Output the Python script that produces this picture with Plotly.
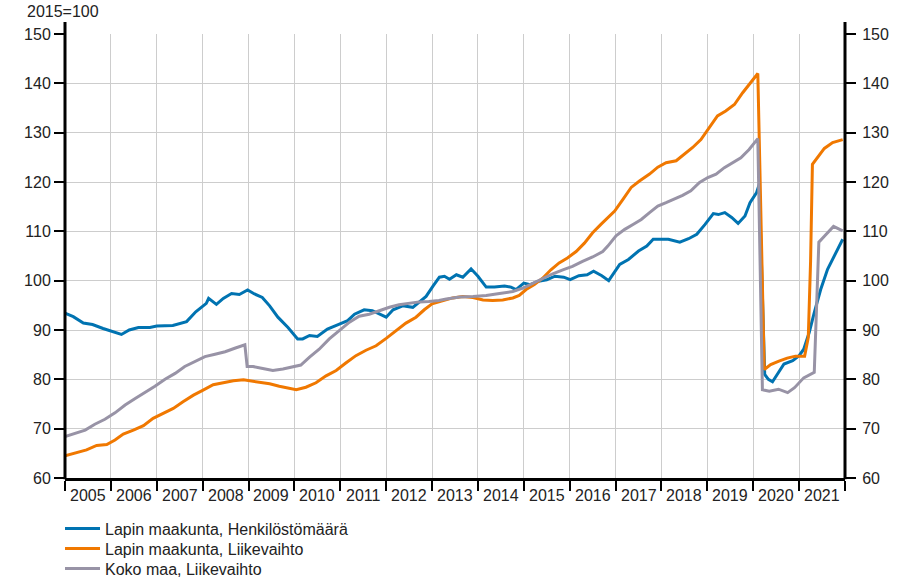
import plotly.graph_objects as go

# --- data (decimal year, index 2015=100) ---
henk_t = [2005.0, 2005.18, 2005.4, 2005.6, 2005.83, 2006.05, 2006.23, 2006.4, 2006.6, 2006.85,
          2007.0, 2007.35, 2007.65, 2007.85, 2008.08, 2008.13, 2008.3, 2008.45, 2008.63, 2008.8,
          2008.98, 2009.13, 2009.3, 2009.46, 2009.64, 2009.86, 2010.07, 2010.18, 2010.33, 2010.5,
          2010.72, 2010.98, 2011.16, 2011.31, 2011.52, 2011.7, 2011.85, 2012.0, 2012.15, 2012.36,
          2012.58, 2012.76, 2012.87, 2013.02, 2013.16, 2013.27, 2013.38, 2013.53, 2013.67, 2013.85,
          2014.0, 2014.18, 2014.36, 2014.58, 2014.72, 2014.83, 2015.0, 2015.14, 2015.32, 2015.5,
          2015.68, 2015.87, 2016.01, 2016.2, 2016.38, 2016.52, 2016.7, 2016.85, 2017.0, 2017.09,
          2017.28, 2017.5, 2017.68, 2017.82, 2018.15, 2018.4, 2018.59, 2018.77, 2018.95, 2019.13,
          2019.24, 2019.38, 2019.53, 2019.67, 2019.82, 2019.93, 2020.07, 2020.13, 2020.25, 2020.33,
          2020.42, 2020.53, 2020.67, 2020.86, 2021.0, 2021.1, 2021.22, 2021.33, 2021.47, 2021.62,
          2021.77, 2021.95]
henk_v = [93.4, 92.7, 91.4, 91.1, 90.3, 89.7, 89.1, 90.0, 90.5, 90.5,
          90.8, 90.9, 91.7, 93.7, 95.4, 96.4, 95.2, 96.4, 97.4, 97.2,
          98.1, 97.3, 96.6, 94.9, 92.6, 90.5, 88.2, 88.2, 88.9, 88.7,
          90.2, 91.2, 91.9, 93.2, 94.1, 93.9, 93.2, 92.6, 94.1, 94.9,
          94.6, 95.9, 96.8, 98.9, 100.7, 100.9, 100.3, 101.2, 100.7, 102.4,
          100.9, 98.7, 98.7, 98.9, 98.7, 98.2, 99.5, 99.2, 99.9, 100.2,
          100.9, 100.7, 100.2, 101.0, 101.2, 101.9, 101.0, 100.0, 102.2, 103.3,
          104.3, 106.0, 107.0, 108.4, 108.4, 107.8, 108.5, 109.4, 111.4, 113.6,
          113.4, 113.8, 112.8, 111.6, 113.1, 115.8, 117.8, 119.5, 81.0, 80.0,
          79.5, 81.1, 83.1, 83.8, 84.8, 86.1, 89.5, 93.5, 98.2, 102.3,
          105.0, 108.4]

liike_t = [2005.0, 2005.25, 2005.47, 2005.69, 2005.91, 2006.09, 2006.27, 2006.49, 2006.71, 2006.92,
           2007.14, 2007.36, 2007.58, 2007.8, 2008.01, 2008.23, 2008.45, 2008.67, 2008.89, 2009.1,
           2009.24, 2009.46, 2009.67, 2009.89, 2010.04, 2010.25, 2010.47, 2010.69, 2010.91, 2011.12,
           2011.34, 2011.56, 2011.78, 2012.0, 2012.21, 2012.43, 2012.65, 2012.83, 2013.0, 2013.24,
           2013.45, 2013.67, 2013.89, 2014.11, 2014.32, 2014.54, 2014.76, 2014.9, 2015.05, 2015.23,
           2015.41, 2015.59, 2015.77, 2015.95, 2016.14, 2016.32, 2016.5, 2016.68, 2016.86, 2016.98,
           2017.16, 2017.34, 2017.52, 2017.74, 2017.92, 2018.1, 2018.32, 2018.5, 2018.68, 2018.86,
           2019.04, 2019.22, 2019.4, 2019.59, 2019.77, 2019.95, 2020.1, 2020.24, 2020.38, 2020.56,
           2020.74, 2020.92, 2021.12, 2021.2, 2021.25, 2021.29, 2021.4, 2021.55, 2021.73, 2021.95]
liike_v = [64.5, 65.2, 65.7, 66.6, 66.8, 67.7, 68.9, 69.7, 70.6, 72.1,
           73.1, 74.1, 75.5, 76.8, 77.8, 78.9, 79.3, 79.7, 79.9, 79.6,
           79.5, 79.1, 78.6, 78.2, 77.9, 78.4, 79.3, 80.7, 81.8, 83.3,
           84.8, 85.9, 86.8, 88.3, 89.9, 91.4, 92.6, 94.1, 95.3, 95.9,
           96.5, 96.8, 96.6, 96.1, 96.0, 96.1, 96.5, 97.0, 98.2, 99.2,
           100.5, 102.2, 103.6, 104.6, 105.9, 107.6, 109.7, 111.4, 113.0, 114.1,
           116.5, 118.9, 120.2, 121.6, 123.0, 123.9, 124.3, 125.6, 127.0, 128.6,
           131.0, 133.4, 134.4, 135.7, 138.1, 140.1, 142.0, 82.0, 83.0, 83.7,
           84.3, 84.7, 84.7, 88.5, 104.0, 123.6, 124.9, 126.8, 128.0, 128.6]

koko_t = [2005.0, 2005.22, 2005.44, 2005.65, 2005.87, 2006.09, 2006.31, 2006.53, 2006.74, 2006.96,
          2007.18, 2007.4, 2007.61, 2007.83, 2008.05, 2008.27, 2008.49, 2008.7, 2008.92, 2008.97,
          2009.1, 2009.31, 2009.53, 2009.75, 2009.96, 2010.14, 2010.33, 2010.54, 2010.76, 2010.98,
          2011.2, 2011.41, 2011.63, 2011.85, 2012.07, 2012.28, 2012.5, 2012.72, 2012.93, 2013.15,
          2013.31, 2013.6, 2013.89, 2014.18, 2014.47, 2014.76, 2014.98, 2015.2, 2015.41, 2015.63,
          2015.85, 2016.06, 2016.28, 2016.5, 2016.72, 2016.83, 2017.01, 2017.2, 2017.38, 2017.56,
          2017.74, 2017.92, 2018.1, 2018.28, 2018.46, 2018.64, 2018.83, 2019.01, 2019.19, 2019.37,
          2019.55, 2019.73, 2019.91, 2020.1, 2020.2, 2020.35, 2020.55, 2020.75, 2020.9, 2021.1,
          2021.33, 2021.43, 2021.55, 2021.75, 2021.95]
koko_v = [68.4, 69.1, 69.7, 70.9, 71.9, 73.2, 74.8, 76.1, 77.3, 78.6,
          80.0, 81.2, 82.6, 83.6, 84.6, 85.1, 85.6, 86.3, 87.0, 82.6,
          82.6, 82.2, 81.8, 82.1, 82.6, 82.9, 84.5, 86.1, 88.2, 89.9,
          91.6, 92.8, 93.2, 93.9, 94.6, 95.1, 95.4, 95.7, 95.8, 96.0,
          96.3, 96.7, 96.8, 97.0, 97.4, 97.8, 98.5, 99.5, 100.5, 101.4,
          102.2, 102.9, 103.9, 104.8, 105.9, 107.0, 109.1, 110.4, 111.4, 112.4,
          113.8, 115.1, 115.8, 116.5, 117.3, 118.2, 119.9, 120.9, 121.6, 122.9,
          123.9, 124.9, 126.6, 128.8, 77.9, 77.6, 78.0, 77.3, 78.3, 80.3,
          81.4, 107.8, 109.0, 111.0, 110.1]

series_names = ["Lapin maakunta, Henkilöstömäärä", "Lapin maakunta, Liikevaihto", "Koko maa, Liikevaihto"]
series_colors = ["#0073b1", "#f07800", "#9893a6"]
years = list(range(2005, 2022))
y_ticks = list(range(60, 151, 10))

FONT = "Liberation Sans, Arial, sans-serif"
TXT = "#222222"
FS = 16

fig = go.Figure()
legend_ids = ["legend", "legend2", "legend3"]
for t, v, name, col, lg in [(henk_t, henk_v, series_names[0], series_colors[0], legend_ids[0]),
                            (liike_t, liike_v, series_names[1], series_colors[1], legend_ids[1]),
                            (koko_t, koko_v, series_names[2], series_colors[2], legend_ids[2])]:
    fig.add_trace(go.Scatter(x=t, y=v, mode="lines", name=name, legend=lg,
                             line=dict(color=col, width=3), hoverinfo="skip"))

# invisible trace to activate the right-hand axis
fig.add_trace(go.Scatter(x=[2005, 2022], y=[60, 150], yaxis="y2", mode="lines",
                         line=dict(width=0), opacity=0, showlegend=False, hoverinfo="skip"))

legend_common = dict(x=-0.0064, xanchor="left", yanchor="top", orientation="v",
                     font=dict(family=FONT, size=FS, color=TXT), itemwidth=35,
                     bgcolor="rgba(0,0,0,0)", borderwidth=0)

fig.update_layout(
    width=909, height=578,
    margin=dict(l=65, r=64, t=34, b=100, autoexpand=False),
    paper_bgcolor="white", plot_bgcolor="white",
    font=dict(family=FONT, size=FS, color=TXT),
    xaxis=dict(range=[2005, 2022], tickvals=years + [2022], ticktext=[""] * 18,
               ticks="outside", ticklen=10, tickwidth=2, tickcolor="black",
               showgrid=True, gridcolor="#cdcdcd", gridwidth=1, automargin=False,
               showline=True, linecolor="black", linewidth=3, zeroline=False),
    yaxis=dict(range=[60, 150], tickvals=y_ticks, ticks="outside", ticklen=10,
               tickwidth=2, tickcolor="black", showgrid=True, gridcolor="#cdcdcd",
               gridwidth=1, showline=False, zeroline=False, automargin=False,
               tickfont=dict(family=FONT, size=FS, color=TXT)),
    yaxis2=dict(range=[60, 150], tickvals=y_ticks, overlaying="y", side="right",
                ticks="outside", ticklen=10, tickwidth=2, tickcolor="black",
                showgrid=False, showline=False, zeroline=False, automargin=False,
                ticklabelstandoff=3,
                tickfont=dict(family=FONT, size=FS, color=TXT)),
    legend=dict(y=-0.0757, **legend_common),
    legend2=dict(y=-0.1207, **legend_common),
    legend3=dict(y=-0.1658, **legend_common),
    showlegend=True,
)

# vertical axis lines extending slightly above the plot
for xp in (0, 1):
    fig.add_shape(type="line", xref="paper", yref="paper", x0=xp, x1=xp, y0=-0.003, y1=1.027,
                  line=dict(color="black", width=3))

# year labels centred in each year
for yv in years:
    fig.add_annotation(x=yv + 0.5, y=0, xref="x", yref="paper", text=str(yv),
                       showarrow=False, yanchor="top", yshift=-7,
                       font=dict(family=FONT, size=FS, color=TXT))

fig.add_annotation(x=0, y=1, xref="paper", yref="paper", text="2015=100", showarrow=False,
                   xanchor="right", yanchor="bottom", xshift=36, yshift=12,
                   font=dict(family=FONT, size=FS, color=TXT))

fig.write_html("out.html", config={"displayModeBar": False},
               post_script="document.body.style.margin='0';document.body.style.overflow='hidden';")
